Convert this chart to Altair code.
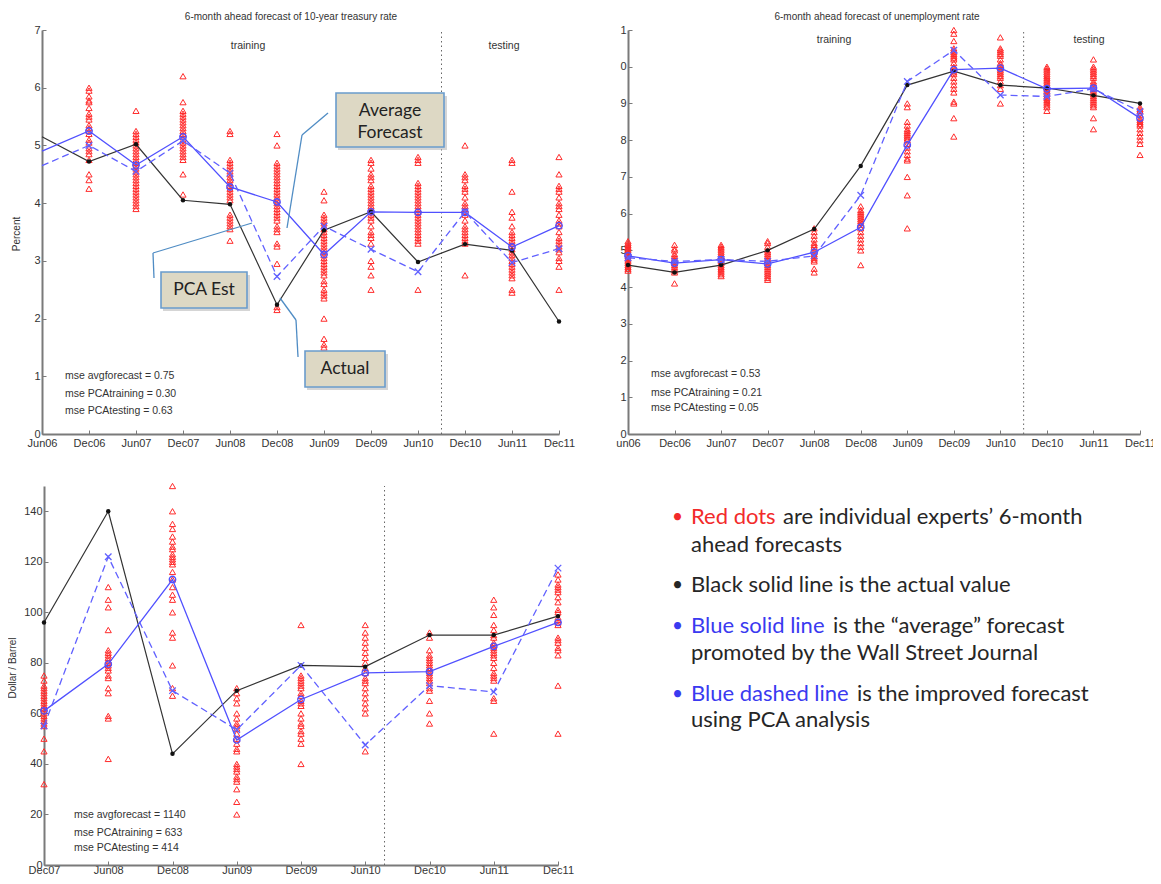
import json
import altair as alt
import pandas as pd

W, H = 1145, 868

# ---------------- data: 10-year treasury rate ----------------
TREAS_LABELS = ["Jun06", "Dec06", "Jun07", "Dec07", "Jun08", "Dec08",
                "Jun09", "Dec09", "Jun10", "Dec10", "Jun11", "Dec11"]
TREAS_ACTUAL = [5.15, 4.72, 5.02, 4.05, 3.98, 2.24, 3.53, 3.85, 2.98, 3.29, 3.18, 1.95]
TREAS_AVG = [4.90, 5.25, 4.66, 5.15, 4.28, 4.02, 3.11, 3.85, 3.84, 3.84, 3.24, 3.61]
TREAS_PCA = [4.65, 5.00, 4.55, 5.08, 4.52, 2.73, 3.60, 3.20, 2.81, 3.85, 2.97, 3.21]
TREAS_EXPERTS = [
    [],
    [6.0, 5.95, 5.85, 5.78, 5.75, 5.65, 5.55, 5.5, 5.45, 5.35, 5.3, 5.25, 5.2, 5.1, 5.05,
     4.95, 4.9, 4.85, 4.75, 4.5, 4.4, 4.25],
    [5.6, 5.25, 5.2, 5.15, 5.1, 5.05, 5.0, 4.95, 4.9, 4.85, 4.8, 4.75, 4.7, 4.65, 4.6, 4.55,
     4.5, 4.45, 4.4, 4.35, 4.3, 4.25, 4.2, 4.15, 4.1, 4.05, 4.0, 3.95, 3.9],
    [6.2, 5.75, 5.6, 5.55, 5.5, 5.45, 5.4, 5.35, 5.3, 5.25, 5.2, 5.15, 5.1, 5.05, 5.0, 4.95,
     4.9, 4.85, 4.8, 4.75, 4.5, 4.15],
    [5.25, 5.2, 4.75, 4.7, 4.65, 4.6, 4.55, 4.5, 4.45, 4.4, 4.35, 4.3, 4.25, 4.2, 4.15, 4.1,
     4.05, 3.8, 3.75, 3.7, 3.65, 3.6, 3.55, 3.35],
    [5.2, 5.0, 4.7, 4.65, 4.6, 4.55, 4.5, 4.45, 4.4, 4.35, 4.3, 4.25, 4.2, 4.15, 4.1, 4.05,
     4.0, 3.95, 3.9, 3.85, 3.8, 3.75, 3.7, 3.6, 3.55, 3.5, 3.3, 3.25, 2.95, 2.2, 2.15],
    [4.2, 4.05, 3.8, 3.75, 3.7, 3.65, 3.6, 3.55, 3.5, 3.45, 3.4, 3.35, 3.3, 3.25, 3.2, 3.15,
     3.1, 3.05, 3.0, 2.95, 2.9, 2.85, 2.8, 2.75, 2.65, 2.6, 2.5, 2.45, 2.4, 2.35, 2.0, 1.65,
     1.55, 1.5],
    [4.75, 4.7, 4.6, 4.5, 4.45, 4.4, 4.3, 4.25, 4.2, 4.15, 4.1, 4.05, 4.0, 3.95, 3.9, 3.85,
     3.8, 3.75, 3.7, 3.6, 3.5, 3.45, 3.4, 3.3, 3.0, 2.9, 2.75, 2.5],
    [4.8, 4.75, 4.7, 4.35, 4.3, 4.25, 4.2, 4.15, 4.1, 4.05, 4.0, 3.95, 3.9, 3.85, 3.8, 3.75,
     3.7, 3.65, 3.6, 3.55, 3.5, 3.45, 3.4, 3.35, 3.3, 2.5],
    [5.0, 4.5, 4.45, 4.4, 4.3, 4.25, 4.2, 4.1, 4.0, 3.95, 3.9, 3.85, 3.8, 3.7, 3.6, 3.55,
     3.5, 3.45, 3.4, 3.35, 3.3, 2.75],
    [4.75, 4.7, 4.2, 3.85, 3.75, 3.6, 3.5, 3.45, 3.4, 3.35, 3.3, 3.25, 3.2, 3.15, 3.1, 3.05,
     3.0, 2.95, 2.9, 2.85, 2.8, 2.75, 2.7, 2.5, 2.45],
    [4.8, 4.5, 4.3, 4.25, 4.2, 4.1, 4.0, 3.95, 3.9, 3.8, 3.7, 3.65, 3.6, 3.5, 3.4, 3.35,
     3.3, 3.25, 3.2, 3.15, 3.05, 3.0, 2.9, 2.5],
]
TREAS_SPLIT = 8.5
TREAS_YTICKS = [0, 1, 2, 3, 4, 5, 6, 7]
TREAS_MSE = ["mse avgforecast = 0.75", "mse PCAtraining = 0.30", "mse PCAtesting = 0.63"]

# ---------------- data: unemployment rate ----------------
UNEMP_LABELS = ["un06", "Dec06", "Jun07", "Dec07", "Jun08", "Dec08",
                "Jun09", "Dec09", "Jun10", "Dec10", "Jun11", "Dec11"]
UNEMP_ACTUAL = [4.6, 4.4, 4.6, 5.0, 5.58, 7.3, 9.5, 9.88, 9.5, 9.42, 9.22, 9.0]
UNEMP_AVG = [4.85, 4.65, 4.75, 4.63, 4.95, 5.63, 7.87, 9.92, 9.96, 9.4, 9.42, 8.6]
UNEMP_PCA = [4.8, 4.7, 4.75, 4.7, 4.85, 6.5, 9.6, 10.45, 9.23, 9.19, 9.4, 8.78]
UNEMP_EXPERTS = [
    [5.25, 5.2, 5.15, 5.1, 5.05, 5.0, 4.95, 4.9, 4.85, 4.8, 4.75, 4.7, 4.65, 4.6, 4.55, 4.5, 4.45],
    [5.15, 5.05, 5.0, 4.9, 4.85, 4.8, 4.75, 4.7, 4.65, 4.6, 4.55, 4.5, 4.45, 4.4, 4.1],
    [5.15, 5.1, 5.05, 5.0, 4.95, 4.9, 4.85, 4.8, 4.75, 4.7, 4.65, 4.6, 4.55, 4.5, 4.45, 4.4,
     4.35, 4.3],
    [5.25, 5.2, 5.1, 5.0, 4.95, 4.9, 4.85, 4.8, 4.75, 4.7, 4.65, 4.6, 4.55, 4.5, 4.45, 4.4,
     4.35, 4.3, 4.25, 4.2],
    [5.6, 5.5, 5.4, 5.3, 5.2, 5.15, 5.1, 5.0, 4.95, 4.9, 4.85, 4.8, 4.75, 4.7, 4.5, 4.4],
    [6.2, 6.1, 6.05, 6.0, 5.95, 5.9, 5.85, 5.8, 5.75, 5.7, 5.6, 5.5, 5.4, 5.3, 5.2, 5.1, 5.0, 4.6],
    [9.0, 8.9, 8.5, 8.4, 8.3, 8.25, 8.2, 8.15, 8.1, 8.05, 8.0, 7.9, 7.8, 7.7, 7.6, 7.5, 7.45,
     7.0, 6.5, 5.6],
    [11.0, 10.9, 10.7, 10.5, 10.45, 10.4, 10.35, 10.3, 10.25, 10.2, 10.1, 10.0, 9.95, 9.9,
     9.85, 9.8, 9.7, 9.6, 9.5, 9.4, 9.3, 9.05, 9.0, 8.6, 8.1],
    [10.8, 10.5, 10.45, 10.4, 10.35, 10.3, 10.2, 10.1, 10.05, 10.0, 9.95, 9.9, 9.85, 9.8,
     9.75, 9.7, 9.6, 9.5, 9.4, 9.0],
    [10.0, 9.95, 9.9, 9.85, 9.8, 9.75, 9.7, 9.65, 9.6, 9.55, 9.5, 9.45, 9.4, 9.35, 9.3, 9.25,
     9.2, 9.15, 9.1, 9.05, 9.0, 8.95, 8.9, 8.8],
    [10.2, 10.0, 9.95, 9.9, 9.85, 9.8, 9.75, 9.7, 9.6, 9.55, 9.5, 9.45, 9.4, 9.35, 9.3, 9.25,
     9.2, 9.15, 9.1, 9.05, 9.0, 8.95, 8.9, 8.6, 8.3],
    [8.9, 8.85, 8.8, 8.7, 8.6, 8.55, 8.5, 8.45, 8.4, 8.3, 8.2, 8.1, 8.0, 7.9, 7.6],
]
UNEMP_SPLIT = 8.5
UNEMP_YTICKS = [0, 1, 2, 3, 4, 5, 6, 7, 8, 9, 10, 11]
UNEMP_MSE = ["mse avgforecast = 0.53", "mse PCAtraining = 0.21", "mse PCAtesting = 0.05"]

# ---------------- data: oil price ----------------
OIL_LABELS = ["Dec07", "Jun08", "Dec08", "Jun09", "Dec09", "Jun10", "Dec10", "Jun11", "Dec11"]
OIL_ACTUAL = [96, 140, 44, 69, 79, 78.5, 91, 91, 98.5]
OIL_AVG = [61, 79.5, 113, 49.5, 65.5, 76, 76.5, 86.5, 96]
OIL_PCA = [55, 122, 69, 53.5, 79, 47.5, 71, 68.5, 117.5]
OIL_EXPERTS = [
    [75, 73, 71, 70, 69, 68, 67, 66, 65, 64, 63, 62, 61, 60, 59, 58, 57, 56, 55, 50, 45, 32],
    [110, 105, 102, 93, 85, 84, 83, 82, 81, 80, 79, 78, 77, 75, 74, 70, 68, 59, 58, 42],
    [150, 140, 135, 133, 130, 128, 126, 125, 123, 122, 121, 120, 119, 116, 113, 110, 107,
     105, 100, 92, 90, 79, 70, 67],
    [70, 68, 66, 64, 60, 58, 56, 55, 54, 52, 50, 48, 46, 45, 40, 39, 38, 37, 35, 34, 33, 30,
     25, 20],
    [95, 75, 74, 73, 72, 71, 70, 68, 67, 65, 64, 63, 60, 58, 56, 55, 53, 52, 50, 48, 40],
    [95, 92, 90, 88, 86, 84, 82, 80, 78, 76, 74, 73, 72, 70, 68, 66, 64, 62, 60, 45],
    [92, 90, 85, 83, 82, 81, 80, 79, 78, 77, 76, 75, 74, 73, 72, 70, 69, 65, 60, 56],
    [105, 102, 99, 95, 93, 91, 90, 88, 87, 86, 85, 84, 83, 82, 80, 78, 76, 75, 74, 73, 66,
     65, 52],
    [115, 113, 111, 110, 109, 108, 106, 104, 101, 100, 98, 97, 96, 95, 90, 89, 88, 86, 85,
     83, 71, 52],
]
OIL_SPLIT = 5.3
OIL_YTICKS = [0, 20, 40, 60, 80, 100, 120, 140]
OIL_MSE = ["mse avgforecast = 1140", "mse PCAtraining = 633", "mse PCAtesting = 414"]

LEGEND_LINES = [
    [("Red dots", "red"), ("are individual experts\u2019 6-month", "dark")],
    [("ahead forecasts", "dark")],
    [("Black solid line is the actual value", "dark")],
    [("Blue solid line", "blue"), ("is the \u201caverage\u201d forecast", "dark")],
    [("promoted by the Wall Street Journal", "dark")],
    [("Blue dashed line", "blue"), ("is the improved forecast", "dark")],
    [("using PCA analysis", "dark")],
]

# ---------------- styles ----------------
RED = "#ff2b2b"
BLUE = "#5050ff"
BLUE_D = "#6060ff"
BLACK = "#333333"
AXIS_GRAY = "#7a7a7a"
SMALL_FONT = "Liberation Sans"
X_PATH = "M-1,-1L1,1M-1,1L1,-1"

layers = []


def build_panel(labels, actual, avg, pca, experts, split, xr, yr, ydom, yticks,
                ylabel_expr, mark_from, xpad):
    n = len(labels)
    xs = alt.Scale(domain=[0, n - 1], range=xr, nice=False, zero=False)
    ys = alt.Scale(domain=ydom, range=yr, nice=False, zero=False)
    xaxis = alt.Axis(values=list(range(n)),
                     labelExpr=f"{json.dumps(labels)}[datum.value]",
                     orient="bottom", offset=yr[0] - H, title=None, grid=False,
                     tickSize=alt.ExprRef(expr="-4"), tickColor=AXIS_GRAY,
                     domainColor=AXIS_GRAY, domainWidth=2, labelPadding=xpad,
                     labelFont=SMALL_FONT, labelFontSize=11, labelColor="#333",
                     labelFlush=False, labelOverlap=False)
    yaxis = alt.Axis(values=yticks, labelExpr=ylabel_expr,
                     orient="left", offset=-xr[0], title=None, grid=False,
                     tickSize=alt.ExprRef(expr="-4"), tickColor=AXIS_GRAY,
                     domainColor=AXIS_GRAY, domainWidth=2, labelPadding=6,
                     labelFont=SMALL_FONT, labelFontSize=11, labelColor="#333",
                     labelFlush=False, labelOverlap=False)

    def X(axis=None):
        return alt.X("t:Q", scale=xs, axis=axis)

    def Y(field="v", axis=None):
        return alt.Y(f"{field}:Q", scale=ys, axis=axis)

    def series(vals):
        return pd.DataFrame({"t": list(range(n)), "v": vals})

    def marks(vals):
        return pd.DataFrame({"t": list(range(mark_from, n)), "v": vals[mark_from:]})

    exp_df = pd.DataFrame([{"t": i, "v": v} for i, col in enumerate(experts) for v in col])
    split_df = pd.DataFrame({"t": [split], "y0": [ydom[0]], "y1": [ydom[1]]})

    out = []
    # axes holder (invisible)
    out.append(alt.Chart(series(actual)).mark_line(opacity=0).encode(
        x=X(xaxis), y=Y(axis=yaxis)))
    # training / testing divider
    out.append(alt.Chart(split_df).mark_rule(color="#666", strokeWidth=1,
                                             strokeDash=[1.5, 3]).encode(
        x=X(), y=Y("y0"), y2="y1:Q"))
    # individual experts
    out.append(alt.Chart(exp_df).mark_point(shape="triangle-up", filled=False, color=RED,
                                            size=38, strokeWidth=1, opacity=1).encode(
        x=X(), y=Y()))
    # actual
    out.append(alt.Chart(series(actual)).mark_line(color=BLACK, strokeWidth=1.2).encode(
        x=X(), y=Y()))
    out.append(alt.Chart(marks(actual)).mark_point(shape="circle", filled=True, color="#111",
                                                   size=20, opacity=1).encode(x=X(), y=Y()))
    # average forecast
    out.append(alt.Chart(series(avg)).mark_line(color=BLUE, strokeWidth=1.3).encode(
        x=X(), y=Y()))
    out.append(alt.Chart(marks(avg)).mark_point(shape="circle", filled=False, color=BLUE,
                                                size=42, strokeWidth=1.3, opacity=1).encode(
        x=X(), y=Y()))
    # PCA estimate
    out.append(alt.Chart(series(pca)).mark_line(color=BLUE_D, strokeWidth=1.3,
                                                strokeDash=[7, 4]).encode(x=X(), y=Y()))
    out.append(alt.Chart(marks(pca)).mark_point(shape=X_PATH, filled=False, color=BLUE_D,
                                                size=42, strokeWidth=1.3, opacity=1).encode(
        x=X(), y=Y()))
    return out


ONE = pd.DataFrame({"a": [0]})


def text(s, x, y, size=10.5, color="#333", font=SMALL_FONT, align="left", angle=0,
         baseline="middle"):
    return alt.Chart(ONE).mark_text(text=s, font=font, fontSize=size, color=color,
                                    align=align, baseline=baseline, angle=angle).encode(
        x=alt.value(x), y=alt.value(y))


def seg(x1, y1, x2, y2, color="#4f8cc4", width=1.3):
    return alt.Chart(ONE).mark_rule(color=color, strokeWidth=width).encode(
        x=alt.value(x1), y=alt.value(y1), x2=alt.value(x2), y2=alt.value(y2))


def box(x1, y1, x2, y2):
    return [
        alt.Chart(ONE).mark_rect(color="#b9b9b9", opacity=0.6).encode(
            x=alt.value(x1 + 2), y=alt.value(y1 + 3), x2=alt.value(x2 + 3), y2=alt.value(y2 + 3)),
        alt.Chart(ONE).mark_rect(fill="#ddd8c4", stroke="#6a9ccc", strokeWidth=1.6).encode(
            x=alt.value(x1), y=alt.value(y1), x2=alt.value(x2), y2=alt.value(y2)),
    ]


# ---------------- panels ----------------
layers += build_panel(TREAS_LABELS, TREAS_ACTUAL, TREAS_AVG, TREAS_PCA, TREAS_EXPERTS,
                      TREAS_SPLIT, [34, 551], [426, 22], [0, 7], TREAS_YTICKS,
                      "datum.label", 1, 7)
layers += build_panel(UNEMP_LABELS, UNEMP_ACTUAL, UNEMP_AVG, UNEMP_PCA, UNEMP_EXPERTS,
                      UNEMP_SPLIT, [620, 1132], [426, 22], [0, 11], UNEMP_YTICKS,
                      "datum.value >= 10 ? toString(datum.value - 10) : datum.label", 0, 7)
layers += build_panel(OIL_LABELS, OIL_ACTUAL, OIL_AVG, OIL_PCA, OIL_EXPERTS,
                      OIL_SPLIT, [36, 550], [857, 478], [0, 150], OIL_YTICKS,
                      "datum.label", 0, 3)

# titles and labels
layers.append(text("6-month ahead forecast of 10-year treasury rate", 283, 9, size=10, align="center"))
layers.append(text("6-month ahead forecast of unemployment rate", 869, 9, size=10, align="center"))
layers.append(text("training", 240, 38, size=10.5, align="center"))
layers.append(text("testing", 496, 38, size=10.5, align="center"))
layers.append(text("training", 826, 32, size=10.5, align="center"))
layers.append(text("testing", 1081, 32, size=10.5, align="center"))
layers.append(text("Percent", 9, 226, size=10, align="center", angle=270))
layers.append(text("Dollar / Barrel", 5, 660, size=10, align="center", angle=270))

for i, s in enumerate(TREAS_MSE):
    layers.append(text(s, 57, [368, 386, 403][i], size=10.5))
for i, s in enumerate(UNEMP_MSE):
    layers.append(text(s, 643, [366, 385, 400][i], size=10.5))
for i, s in enumerate(OIL_MSE):
    layers.append(text(s, 66, [807, 825, 840][i], size=10.5))

# callouts on the treasury panel
layers += [seg(320, 105, 294, 127), seg(294, 127, 279, 220)]
layers += [seg(146, 270, 145, 245), seg(145, 245, 244, 215)]
layers += [seg(290, 349, 288, 312), seg(288, 312, 272, 290)]
layers += box(328, 85, 436, 139)
layers += box(153, 264, 239, 300)
layers += box(297, 343, 377, 379)
CALLOUT_FONT = "Lato"
layers.append(text("Average", 382, 103, size=17.5, color="#222", font=CALLOUT_FONT, align="center"))
layers.append(text("Forecast", 382, 125, size=17.5, color="#222", font=CALLOUT_FONT, align="center"))
layers.append(text("PCA Est", 196, 282, size=17.5, color="#222", font=CALLOUT_FONT, align="center"))
layers.append(text("Actual", 337, 361, size=17.5, color="#222", font=CALLOUT_FONT, align="center"))

# explanatory bullet list
COLORS = {"red": "#f22a2a", "blue": "#3a3af0", "dark": "#262626"}
LINE_Y = [509, 537, 577, 618, 645, 686, 712]
SEG_X = [[683, 775], [683], [683], [683, 825], [683], [683, 849], [683]]
BULLETS = {0: "red", 2: "dark", 3: "blue", 5: "blue"}
for li, parts in enumerate(LEGEND_LINES):
    if li in BULLETS:
        layers.append(text("\u2022", 664, LINE_Y[li], size=19, color=COLORS[BULLETS[li]],
                           font="Lato"))
    for (s, c), x in zip(parts, SEG_X[li]):
        layers.append(text(s, x, LINE_Y[li], size=22, color=COLORS[c], font="Lato"))

chart = alt.layer(*layers).resolve_scale(x="independent", y="independent").properties(
    width=W, height=H, padding=0,
    autosize=alt.AutoSizeParams(type="none"),
    background="white",
).configure_view(strokeWidth=0)

chart.save("out.html", embed_options={"renderer": "svg", "actions": False})
